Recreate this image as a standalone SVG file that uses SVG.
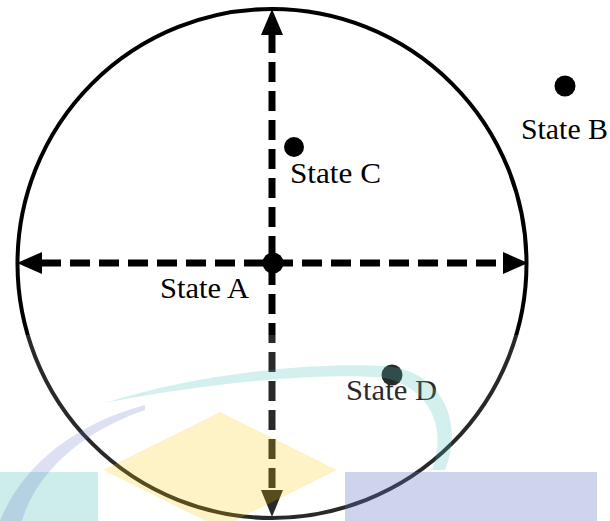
<svg xmlns="http://www.w3.org/2000/svg" width="610" height="521" viewBox="0 0 610 521">
<style>
.dash{fill:none;stroke:#000;stroke-width:7;stroke-dasharray:20 9}
.lbl{font-family:"Liberation Serif","Times New Roman",serif;font-size:29px;fill:#000}
.dot{fill:#000}
</style>
<rect width="610" height="521" fill="#fff"/>
<g id="state-space">
<circle cx="272" cy="263.5" r="254.5" fill="none" stroke="#000" stroke-width="4"/>
</g>
<g id="connectors">
<path class="dash" d="M41 263 H503"/>
<path class="dash" d="M272 33 V491"/>
<polygon points="272,9 261,35 283,35"/>
<polygon points="272,517 261,490 283,490"/>
<polygon points="17,263 42,252 42,274"/>
<polygon points="528,263 503,252 503,274"/>
</g>
<g id="state-a">
<circle class="dot" cx="273" cy="263" r="10.5"/>
<text class="lbl" x="160" y="298" textLength="89" lengthAdjust="spacingAndGlyphs">State A</text>
</g>
<g id="state-b">
<circle class="dot" cx="565" cy="86" r="10.5"/>
<text class="lbl" x="521" y="139" textLength="87" lengthAdjust="spacingAndGlyphs">State B</text>
</g>
<g id="state-c">
<circle class="dot" cx="294" cy="147" r="10"/>
<text class="lbl" x="290" y="183" textLength="91" lengthAdjust="spacingAndGlyphs">State C</text>
</g>
<g id="state-d">
<circle class="dot" cx="392" cy="375" r="10.5"/>
<text class="lbl" x="346" y="400" textLength="91" lengthAdjust="spacingAndGlyphs">State D</text>
</g>
<g id="watermark">
<rect x="0" y="335" width="610" height="186" fill="#fff" opacity="0.16"/>
<rect x="0" y="472" width="98" height="49" fill="#4cc0b8" opacity="0.28"/>
<rect x="345" y="472" width="252" height="49" fill="#6171c2" opacity="0.3"/>
<polygon points="220,412 337,470 220,528 103,470" fill="#f6c800" opacity="0.22"/>
<path d="M105 403 C200 372 320 362 385 366 C440 370 465 420 445 470 L432 470 C448 425 428 388 385 378 C330 372 210 382 105 403 Z" fill="#4cc0b8" opacity="0.24"/>
<path d="M0 521 C20 470 70 425 145 405 L145 410 C80 432 35 475 22 521 Z" fill="#6171c2" opacity="0.22"/>
</g>
</svg>
